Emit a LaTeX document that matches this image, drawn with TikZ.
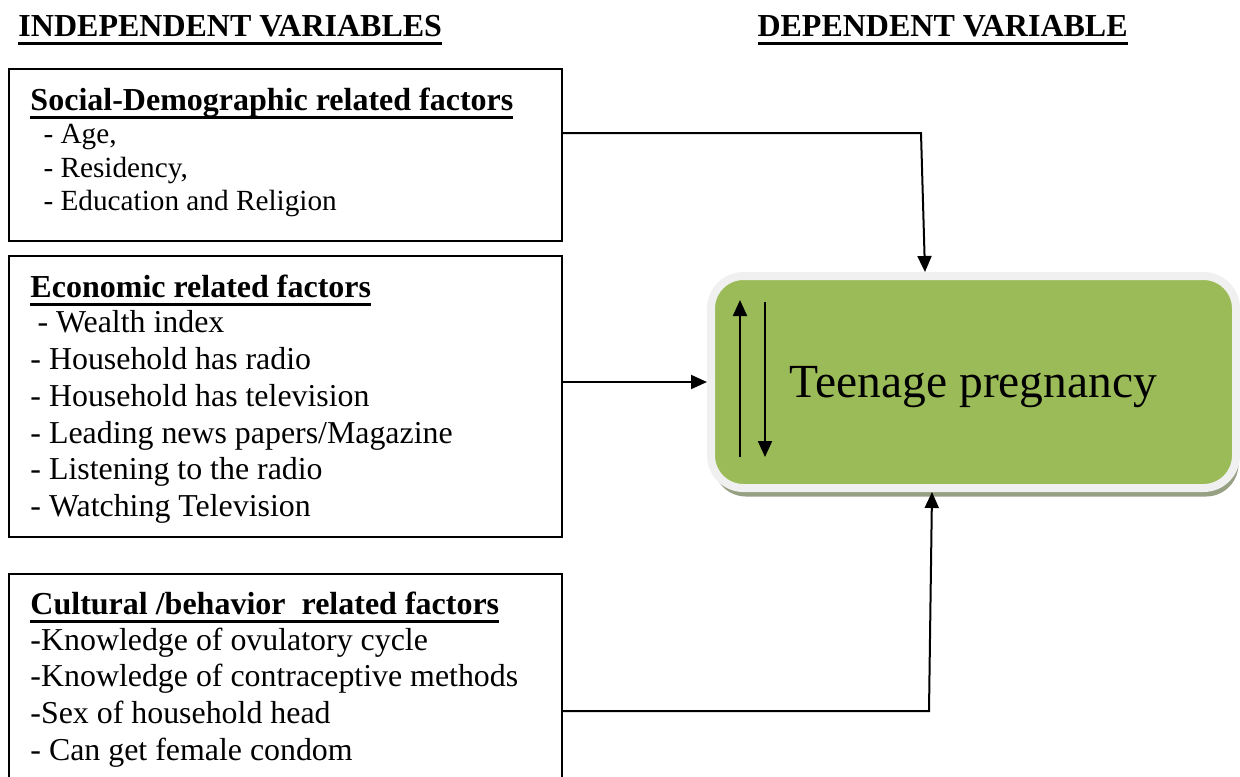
\documentclass[tikz,border=0pt]{standalone}
\usepackage{fontspec}
\setmainfont{Liberation Serif}
\usetikzlibrary{arrows.meta,shadows}
\newcommand\myul[1]{\setbox0\hbox{#1}\rlap{\rule[-3.4pt]{\wd0}{1.1pt}}\box0}
\definecolor{olivegreen}{RGB}{155,187,89}
\definecolor{shadowc}{RGB}{150,160,130}
\begin{document}
\begin{tikzpicture}[x=0.4pt,y=-0.4pt,
  box/.style={draw, line width=0.8pt, inner sep=0pt, anchor=north west},
  txt/.style={inner sep=0pt, anchor=base west, font=\fontsize{12.75}{15}\selectfont},
  stxt/.style={inner sep=0pt, anchor=base west, font=\fontsize{11.7}{14}\selectfont},
  hd/.style={inner sep=0pt, anchor=base west, font=\fontsize{12.8}{15}\selectfont\bfseries},
  arr/.style={line width=0.8pt, -{Triangle[length=6.4pt,width=5.6pt]}}]
\useasboundingbox (0,0) rectangle (1240,776);
% titles
\node[hd] (t1) at (18,36) {\myul{INDEPENDENT VARIABLES}};
\node[hd] (t2) at (757,36) {\myul{DEPENDENT VARIABLE}};
% boxes
\node[box, minimum width=221.2pt, minimum height=68.8pt] (b1) at (8,68) {};
\node[box, minimum width=221.2pt, minimum height=112.4pt] (b2) at (8,255) {};
\node[box, minimum width=221.2pt, minimum height=100pt] (b3) at (8,573) {};
% box 1 text
\node[hd] (h1) at (30,110) {\myul{Social-Demographic related factors}};
\node[stxt] (a1) at (43,143) {- Age,};
\node[stxt] (a2) at (43,177) {- Residency,};
\node[stxt] (a3) at (43,210) {- Education and Religion};
% box 2 text
\node[hd] (h2) at (30,297) {\myul{Economic related factors}};
\node[txt] (e1) at (37,332) {- Wealth index};
\node[txt] (e2) at (30,369) {- Household has radio};
\node[txt] (e3) at (30,406) {- Household has television};
\node[txt] (e4) at (30,443) {- Leading news papers/Magazine};
\node[txt] (e5) at (30,479) {- Listening to the radio};
\node[txt] (e6) at (30,516) {- Watching Television};
% box 3 text
\node[hd] (h3) at (30,614) {\myul{Cultural /behavior\ \ related factors}};
\node[txt] (c1) at (30,650) {-Knowledge of ovulatory cycle};
\node[txt] (c2) at (30,686) {-Knowledge of contraceptive methods};
\node[txt] (c3) at (30,723) {-Sex of household head};
\node[txt] (c4) at (30,760) {- Can get female condom};
% dependent variable
\node[draw=black!6, fill=olivegreen, line width=3.2pt, rounded corners=13pt,
  minimum width=210pt, minimum height=84.8pt, inner sep=0pt,
  drop shadow={shadow xshift=1pt, shadow yshift=-3.4pt, fill=shadowc, opacity=1},
  font=\fontsize{19}{22}\selectfont] (tp) at (973.5,382) {\raisebox{-6pt}[0pt][0pt]{Teenage pregnancy}};
% inner arrows
\coordinate (u1) at (740,457);
\coordinate (u2) at (740,300);
\coordinate (d1) at (765,302);
\coordinate (d2) at (765,457);
\draw[arr] (u1) -- (u2);
\draw[arr] (d1) -- (d2);
% connectors
\coordinate (k1) at (921,133);
\coordinate (k1b) at (925,0);
\draw[arr] (k1 -| b1.east) -- (k1) -- (tp.north -| k1b);
\draw[arr] (tp.west -| b2.east) -- (tp.west);
\coordinate (k3) at (929,711);
\coordinate (k3b) at (932,0);
\draw[arr] (k3 -| b3.east) -- (k3) -- (tp.south -| k3b);
\end{tikzpicture}
\end{document}
